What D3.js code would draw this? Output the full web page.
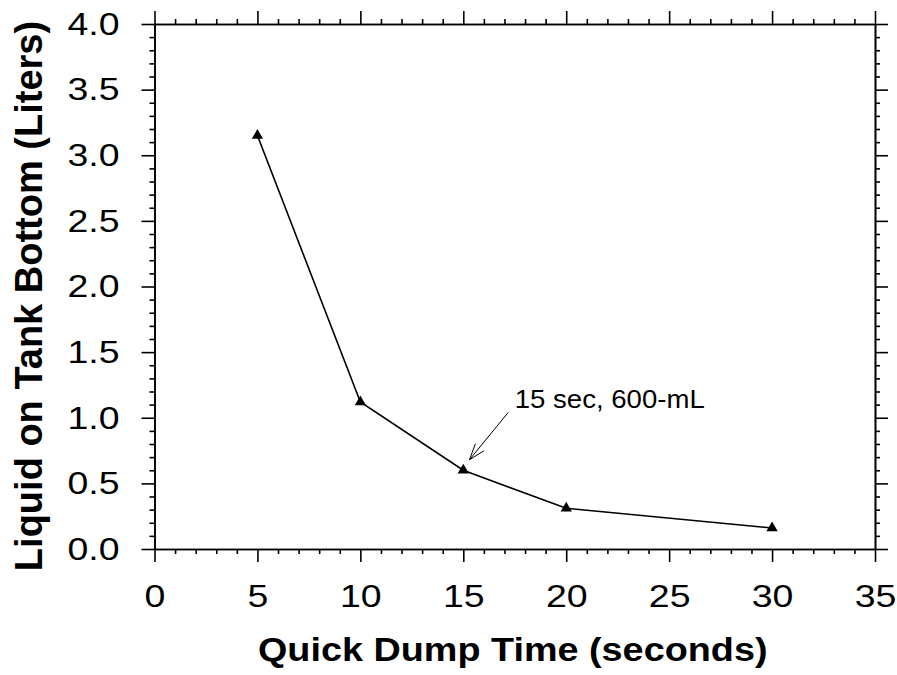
<!DOCTYPE html>
<html>
<head>
<meta charset="utf-8">
<script src="https://cdn.jsdelivr.net/npm/d3@7"></script>
<style>
  body { margin: 0; background: #fff; }
  svg { display: block; font-family: Arial, "Liberation Sans", sans-serif; }
</style>
</head>
<body>
<svg id="chart" width="897" height="675"></svg>
<script>
// data
const dumpTime = [5, 10, 15, 20, 30];
const liquid = [3.15, 1.12, 0.60, 0.31, 0.16];
const xTicks = [0, 5, 10, 15, 20, 25, 30, 35];
const yTicks = [0, 0.5, 1.0, 1.5, 2.0, 2.5, 3.0, 3.5, 4.0];
const note = { text: "15 sec, 600-mL", tip: [15.3, 0.68], tail: [17.18, 1.04], at: [17.5, 1.075] };

const width = 897, height = 675;
const margin = { top: 24, right: 22, bottom: 126, left: 154.5 };

const svg = d3.select("#chart");

const x = d3.scaleLinear().domain([0, 35]).range([margin.left, width - margin.right]);
const y = d3.scaleLinear().domain([0, 4]).range([height - margin.bottom, margin.top]);

const minorX = d3.range(0, 35.001, 1).filter(v => v % 5 !== 0);
const minorY = d3.range(0, 4.001, 0.1).filter(v => Math.abs(v * 2 - Math.round(v * 2)) > 1e-6);

// the source text is a bit wider than plain Arial, so stretch it horizontally
function stretch(sel, k) {
  sel.each(function() {
    const w = this.getComputedTextLength();
    d3.select(this).attr("textLength", w * k).attr("lengthAdjust", "spacingAndGlyphs");
  });
}

function styleAxis(g) {
  g.select(".domain").attr("stroke", "#000").attr("stroke-width", 1.6);
  g.selectAll(".tick line").attr("stroke", "#000").attr("stroke-width", 1.6);
}

const axes = [
  { g: svg.append("g").attr("transform", `translate(0,${y(0)})`), axis: d3.axisBottom, scale: x, minor: minorX, major: xTicks, label: true, fmt: d3.format("d"), pad: 10 },
  { g: svg.append("g").attr("transform", `translate(0,${y(4)})`), axis: d3.axisTop, scale: x, minor: minorX, major: xTicks, label: false },
  { g: svg.append("g").attr("transform", `translate(${x(0)},0)`), axis: d3.axisLeft, scale: y, minor: minorY, major: yTicks, label: true, fmt: d3.format(".1f"), pad: 22 },
  { g: svg.append("g").attr("transform", `translate(${x(35)},0)`), axis: d3.axisRight, scale: y, minor: minorY, major: yTicks, label: false }
];

axes.forEach(a => {
  a.g.append("g")
    .call(a.axis(a.scale).tickValues(a.minor).tickSize(5).tickSizeOuter(0).tickFormat(""))
    .call(styleAxis);
  a.g.append("g")
    .call(a.axis(a.scale).tickValues(a.major).tickSize(13).tickSizeOuter(0).tickPadding(a.pad || 3)
      .tickFormat(a.label ? a.fmt : ""))
    .call(styleAxis)
    .call(g => g.selectAll("text").attr("fill", "#000").attr("font-size", 32));
});

axes[0].g.selectAll("text").attr("dy", "1.1em");
stretch(axes[0].g.selectAll("text"), 1.17);
stretch(axes[2].g.selectAll("text"), 1.17);

// line + markers
const line = d3.line().x((d, i) => x(dumpTime[i])).y(d => y(d));
svg.append("path")
  .datum(liquid)
  .attr("d", line)
  .attr("fill", "none")
  .attr("stroke", "#000")
  .attr("stroke-width", 1.6);

svg.append("g")
  .selectAll("path")
  .data(liquid)
  .join("path")
  .attr("transform", (d, i) => `translate(${x(dumpTime[i])},${y(d)})`)
  .attr("d", d3.symbol(d3.symbolTriangle, 55))
  .attr("fill", "#000");

// annotation with open arrow head
const tip = [x(note.tip[0]), y(note.tip[1])];
const tail = [x(note.tail[0]), y(note.tail[1])];
const ang = Math.atan2(tail[1] - tip[1], tail[0] - tip[0]);
const headLen = 17, spread = 0.33;
svg.append("line")
  .attr("x1", tail[0]).attr("y1", tail[1]).attr("x2", tip[0]).attr("y2", tip[1])
  .attr("stroke", "#000").attr("stroke-width", 1);
svg.append("path")
  .attr("d", `M${tip[0] + headLen * Math.cos(ang - spread)},${tip[1] + headLen * Math.sin(ang - spread)}L${tip[0]},${tip[1]}L${tip[0] + headLen * Math.cos(ang + spread)},${tip[1] + headLen * Math.sin(ang + spread)}`)
  .attr("fill", "none").attr("stroke", "#000").attr("stroke-width", 1);
svg.append("text")
  .attr("x", x(note.at[0])).attr("y", y(note.at[1]))
  .attr("font-size", 26)
  .text(note.text)
  .call(stretch, 1.06);

// axis titles
svg.append("text")
  .attr("x", (x(0) + x(35)) / 2 - 2).attr("y", 661)
  .attr("text-anchor", "middle")
  .attr("font-size", 33).attr("font-weight", "bold")
  .text("Quick Dump Time (seconds)")
  .call(stretch, 1.145);

svg.append("text")
  .attr("transform", "translate(42,296) rotate(-90)")
  .attr("text-anchor", "middle")
  .attr("font-size", 38).attr("font-weight", "bold")
  .text("Liquid on Tank Bottom (Liters)")
  .call(stretch, 1.0);
</script>
</body>
</html>
